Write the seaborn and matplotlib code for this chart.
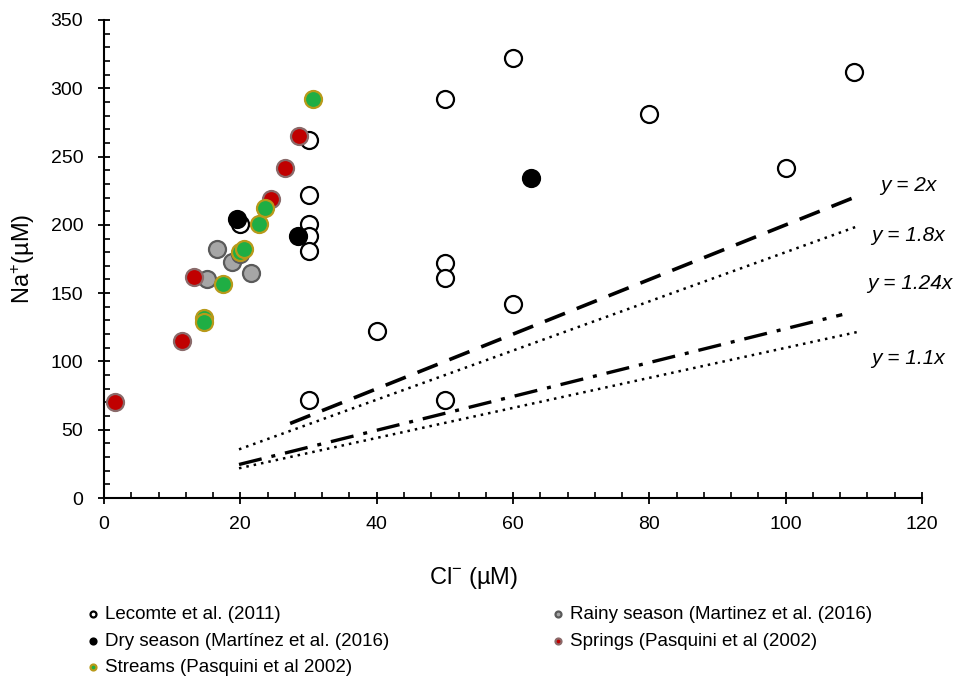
import pandas as pd
import matplotlib
matplotlib.use("Agg")
import matplotlib.pyplot as plt
import seaborn as sns
from matplotlib.ticker import MultipleLocator

# Datos: Cl- (uM) vs Na+ (uM)
lecomte_cl = [30, 30, 30, 30, 30, 20, 30, 40, 50, 50, 50, 50, 60, 60, 80, 100, 110]
lecomte_na = [262, 222, 201, 192, 181, 201, 72, 122, 292, 172, 161, 72, 322, 142, 281, 242, 312]

rainy_cl = [16.6, 18.8, 21.6, 15.1, 20.0]
rainy_na = [182, 173, 165, 160, 179]

dry_cl = [19.5, 28.4, 62.7]
dry_na = [204, 192, 234]

springs_cl = [1.6, 11.5, 13.2, 24.5, 26.5, 28.6]
springs_na = [70, 115, 162, 219, 242, 265]

streams_cl = [14.6, 14.6, 17.5, 19.9, 20.6, 22.7, 23.6, 30.6]
streams_na = [132, 129, 157, 180, 182, 201, 212, 292]

# Rectas de referencia y = k*x
ref_slopes = [2.0, 1.8, 1.24, 1.1]
ref_start = [27.3, 19.8, 19.8, 19.8]
ref_end = [110.5, 110.5, 108.3, 110.5]
ref_labels = ["y = 2x", "y = 1.8x", "y = 1.24x", "y = 1.1x"]
ref_label_pos = [(113.8, 229), (112.6, 192.5), (112.0, 157), (112.6, 102.5)]

sns.set_style("ticks")
plt.rcParams["font.family"] = ["Liberation Sans", "DejaVu Sans"]
plt.rcParams["mathtext.fontset"] = "custom"
plt.rcParams["mathtext.rm"] = "Liberation Sans"
plt.rcParams["mathtext.it"] = "Liberation Sans:italic"
plt.rcParams["text.color"] = "black"
plt.rcParams["axes.labelcolor"] = "black"
plt.rcParams["xtick.color"] = "black"
plt.rcParams["ytick.color"] = "black"

fig = plt.figure(figsize=(9.76, 6.8), dpi=100)
ax = fig.add_axes([0.1066, 0.2676, 0.8381, 0.703])

# lineas de referencia
estilos = [(0, (6, 3.5)), (0, (1, 2)), (0, (7, 3, 1.2, 3)), (0, (1, 2))]
anchos = [2.6, 1.8, 2.4, 1.8]
for k, x0, x1, ls, lw in zip(ref_slopes, ref_start, ref_end, estilos, anchos):
    d = pd.DataFrame({"x": [x0, x1], "y": [k * x0, k * x1]})
    sns.lineplot(data=d, x="x", y="y", ax=ax, color="black", linestyle=ls,
                 linewidth=lw, zorder=1)
for txt, (tx, ty) in zip(ref_labels, ref_label_pos):
    ax.text(tx, ty, txt, fontsize=15, style="italic", va="center", ha="left",
            clip_on=False)

grupos = [
    ("Lecomte et al. (2011)", lecomte_cl, lecomte_na, "white", "black"),
    ("Rainy season (Martinez et al. (2016)", rainy_cl, rainy_na, "#a6a6a6", "#5a5a5a"),
    ("Dry season (Martínez et al. (2016)", dry_cl, dry_na, "black", "black"),
    ("Springs (Pasquini et al (2002)", springs_cl, springs_na, "#c00000", "#8a6a6a"),
    ("Streams (Pasquini et al 2002)", streams_cl, streams_na, "#1fae44", "#b89a1a"),
]
for nombre, xs, ys, fc, ec in grupos:
    d = pd.DataFrame({"Cl": xs, "Na": ys})
    sns.scatterplot(data=d, x="Cl", y="Na", ax=ax, s=150, color=fc,
                    edgecolor=ec, linewidth=1.6, label=nombre, zorder=3)

ax.set_xlim(0, 120)
ax.set_ylim(0, 350)
ax.xaxis.set_major_locator(MultipleLocator(20))
ax.xaxis.set_minor_locator(MultipleLocator(4))
ax.yaxis.set_major_locator(MultipleLocator(50))
ax.yaxis.set_minor_locator(MultipleLocator(10))
ax.tick_params(which="major", direction="inout", length=8, width=1.3, labelsize=14)
ax.tick_params(axis="y", which="major", pad=11)
ax.tick_params(axis="x", which="major", pad=9)
ax.tick_params(which="minor", direction="in", length=4, width=1.2)
for s in ["left", "bottom"]:
    ax.spines[s].set_linewidth(1.5)
    ax.spines[s].set_color("black")
sns.despine(ax=ax)

ax.set_xlabel("Cl$^{-}$ (µM)", fontsize=17)
ax.xaxis.set_label_coords(0.452, -0.14)
ax.set_ylabel("Na$^{+}$(µM)", fontsize=17, labelpad=10)

# leyenda abajo, 2 columnas
h, l = ax.get_legend_handles_labels()
ax.get_legend().remove()
orden = [0, 2, 4, 1, 3]
fig.legend([h[i] for i in orden], [l[i] for i in orden], ncol=2,
           loc="upper left", bbox_to_anchor=(0.0876, 0.109),
           frameon=False, fontsize=13.5, markerscale=0.35,
           borderpad=0, borderaxespad=0,
           handletextpad=0.24, handlelength=0.8, columnspacing=8.6,
           labelspacing=0.5)

plt.savefig("out.png", dpi=100)
